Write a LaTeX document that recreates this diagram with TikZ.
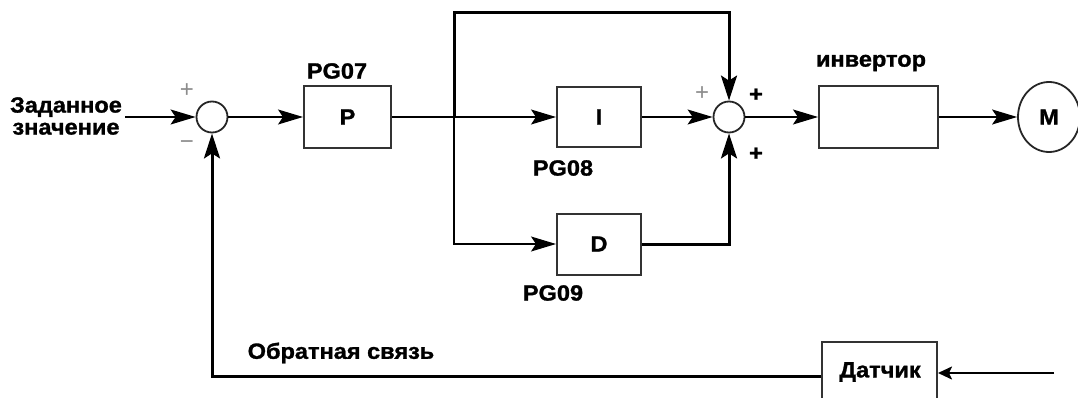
\documentclass[tikz,border=0pt]{standalone}
\usepackage{fontspec}
\setmainfont{Liberation Sans}
\newfontfamily\bfont{Liberation Sans}[FakeBold=1.3,FakeStretch=1.07]
\usetikzlibrary{arrows.meta,shapes.geometric}
\begin{document}
\begin{tikzpicture}[x=1pt,y=-1pt,
  every node/.style={font=\fontsize{22}{24}\bfont\bfseries, inner sep=0pt},
  blk/.style={draw=black!80, line width=2pt, rectangle},
  sumc/.style={draw=black!85, line width=1.8pt, circle, minimum size=31pt},
  conn/.style={line width=1.3pt, -{Stealth[length=25pt,width=15pt,inset=5pt]}},
  thickc/.style={line width=3pt, -{Stealth[length=25pt,width=16pt,inset=5pt]}},
  thinplus/.style={font=\fontsize{24}{24}\selectfont, text=black!45},
  lbl/.style={font=\fontsize{22}{24}\bfont\bfseries}
]
\path[use as bounding box] (0,0) rectangle (1078,398);
\clip (0,0) rectangle (1078,398);

% input
\node[align=center, font=\fontsize{22}{22}\bfont\bfseries] (inp) at (66,116) {Заданное\\значение};
\coordinate (ie) at (125,117);
\node[sumc] (s1) at (212,117) {};
\node[thinplus] (p1) at (187,91) {+};
\node[thinplus] (m1) at (187,145) {\textminus};

\node[blk, minimum width=87pt, minimum height=62pt] (P) at (347.5,117) {P};
\node[lbl] (pg07) at (337,71) {PG07};

\coordinate (br) at (454,117);

\node[blk, minimum width=84pt, minimum height=60pt] (I) at (599,117) {I};
\node[lbl] (pg08) at (563,168) {PG08};
\node[blk, minimum width=84pt, minimum height=61pt] (D) at (599,244) {D};
\node[lbl] (pg09) at (553,293) {PG09};

\node[sumc] (s2) at (729,117) {};
\node[thinplus] (p2) at (702,94) {+};
\node[lbl] (p3) at (756,95) {+};
\node[lbl] (p4) at (756,154) {+};

\node[blk, minimum width=119pt, minimum height=62pt] (inv) at (878.5,117) {};
\node[lbl] (invl) at (871,63) {инвертор};

\node[draw=black!85, line width=1.8pt, ellipse, minimum width=62pt, minimum height=70pt] (M) at (1049,117) {M};

\node[blk, minimum width=115pt, minimum height=68pt] (dat) at (879.5,376) {};
\node[lbl] (datl) at (880,372) {Датчик};
\node[lbl] (fb) at (341,353) {Обратная связь};
\coordinate (src) at (1054,373);

% connectors
\draw[conn] (ie) -- (s1.west);
\draw[conn] (s1.east) -- (P.west);
\draw[line width=1.3pt] (P.east) -- (br);
\draw[conn] (br) -- (I.west);
\draw[thickc] (br) |- (729,13) -- (s2.north);
\draw[conn] (br) |- (D.west);
\draw[conn] (I.east) -- (s2.west);
\draw[thickc] (D.east) -| (s2.south);
\draw[conn] (s2.east) -- (inv.west);
\draw[conn] (inv.east) -- (M.west);
\draw[thickc] (dat.west) -| (s1.south);
\draw[line width=2pt, -{Stealth[length=14pt,width=13pt,inset=3pt]}] (src) -- (dat.east |- src);
\end{tikzpicture}
\end{document}
